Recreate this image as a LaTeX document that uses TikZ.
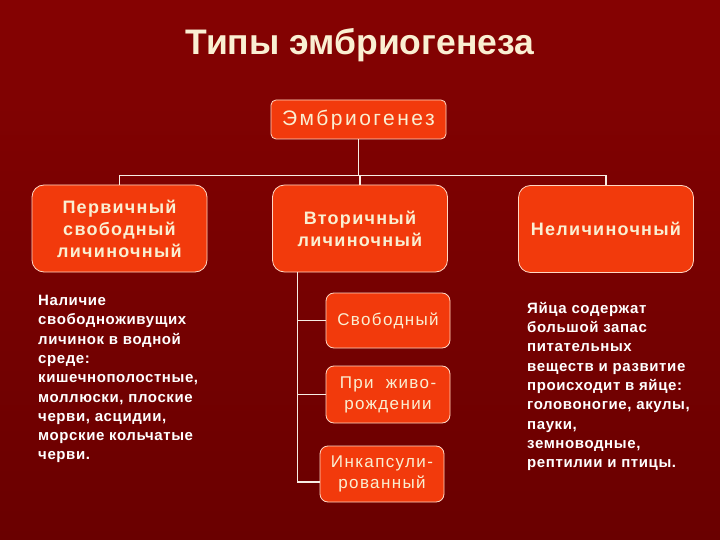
\documentclass[tikz,border=0pt]{standalone}
\usepackage{fontspec}
\setmainfont{Liberation Sans}
\definecolor{slidebg}{HTML}{6A0000}
\definecolor{slidetop}{HTML}{850202}
\definecolor{boxfill}{HTML}{F23A0C}
\definecolor{boxrule}{HTML}{FFD8C4}
\definecolor{cream}{HTML}{FAEFD2}
\definecolor{linkcol}{HTML}{F7EDE4}

\begin{document}
\begin{tikzpicture}[
  x=1pt,y=-1pt,
  font=\bfseries,
  box/.style={draw=boxrule,fill=boxfill,text=cream,align=center,line width=0.8pt,inner sep=0pt},
  bigbox/.style={box,minimum width=175pt,minimum height=87pt,rounded corners=12pt,
    font=\bfseries\fontsize{18}{22}\selectfont\addfontfeature{LetterSpace=7}},
  subbox/.style={box,minimum width=124pt,minimum height=56pt,rounded corners=8pt,
    font=\fontsize{17}{21}\selectfont\addfontfeature{LetterSpace=8}},
  link/.style={draw=linkcol,line width=1.5pt},
  note/.style={text=white,align=left,anchor=north west,inner sep=0pt,
    font=\bfseries\fontsize{15}{19.3}\selectfont\addfontfeature{LetterSpace=4}}
]
\shade[top color=slidetop,bottom color=slidebg] (0,0) rectangle (720,540);

\node[text=cream,font=\bfseries\fontsize{35.5}{40}\selectfont] (title) at (360,45) {Типы эмбриогенеза};

\node[box,minimum width=175pt,minimum height=39pt,rounded corners=5pt,
  font=\fontsize{21}{23}\selectfont\addfontfeature{LetterSpace=12}] (emb) at (358.5,119.5) {Эмбриогенез};

\node[bigbox] (prim) at (119.5,228.5) {Первичный\\свободный\\личиночный};
\node[bigbox] (vtor) at (360,228.5) {Вторичный\\личиночный};
\node[bigbox] (neli) at (606,229) {Неличиночный};

\node[subbox,minimum height=55pt] (svob) at (388,320.5) {Свободный};
\node[subbox,minimum height=57pt] (zhiv) at (388,394.5) {При\ \ живо-\\рождении};
\node[subbox] (inkap) at (382,474) {Инкапсули-\\рованный};

\node[note] (larva) at (38,295) {Наличие\\свободноживущих\\личинок в водной\\среде:\\кишечнополостные,\\моллюски, плоские\\черви, асцидии,\\морские кольчатые\\черви.};
\node[note] (eggs) at (527,302) {Яйца содержат\\большой запас\\питательных\\веществ и развитие\\происходит в яйце:\\головоногие, акулы,\\пауки,\\земноводные,\\рептилии и птицы.};

% tree
\path (emb.south) ++(0,36) coordinate (hub);
\path (vtor.south west) ++(25.5,0) coordinate (trunk);
\draw[link] (emb.south) -- (hub);
\draw[link] (prim.north) |- (hub) -| (neli.north);
\draw[link] (hub) -| (vtor.north);
\draw[link] (trunk) |- (svob.west);
\draw[link] (trunk) |- (zhiv.west);
\draw[link] (trunk) |- ([yshift=-8pt]inkap.west);
\end{tikzpicture}
\end{document}
